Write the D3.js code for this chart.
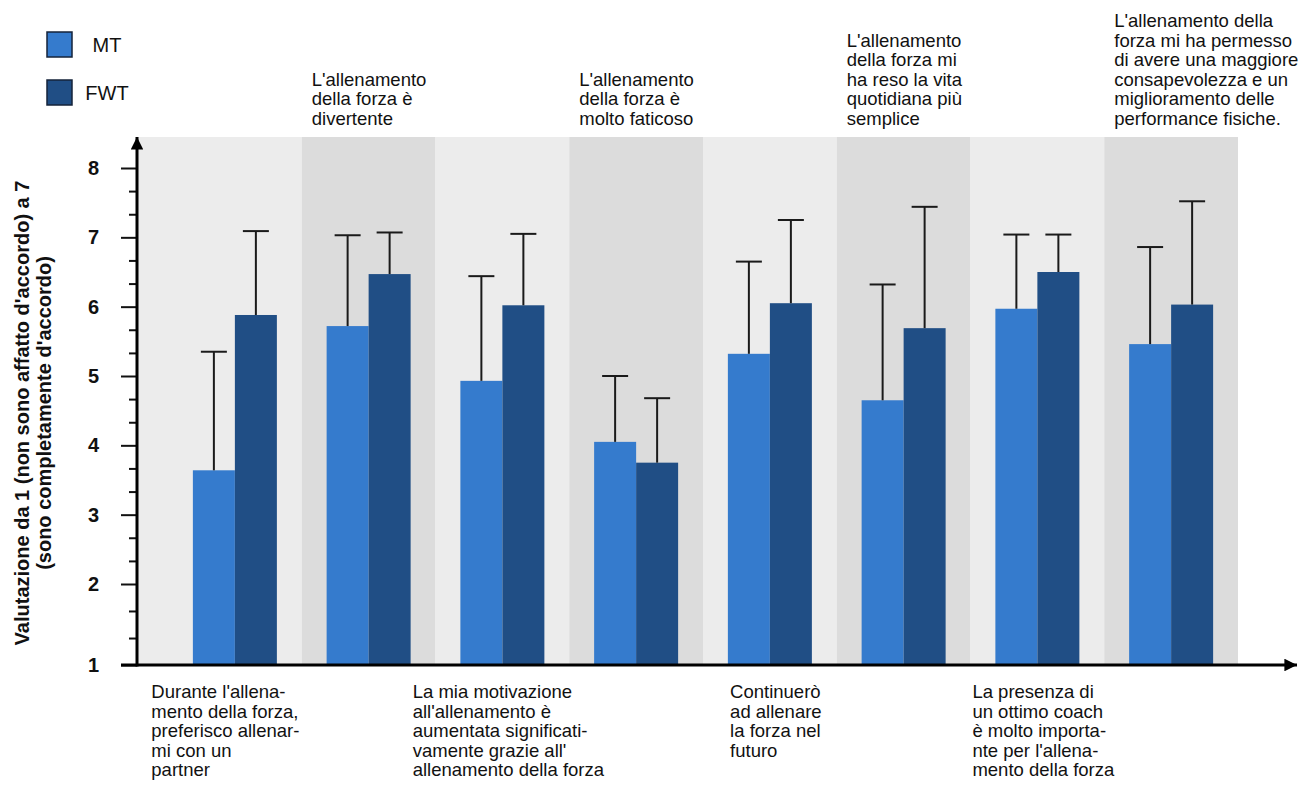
<!DOCTYPE html>
<html>
<head>
<meta charset="utf-8">
<script src="https://cdn.jsdelivr.net/npm/d3@7.9.0/dist/d3.min.js"></script>
<style>
  body { margin: 0; background: #fff; }
  text { font-family: "Liberation Sans", Arial, Helvetica, sans-serif; fill: #111; }
</style>
</head>
<body>
<div id="chart"></div>
<script>
// data
const series = ['MT', 'FWT'];
const statements = [
  ["Durante l'allena-", "mento della forza,", "preferisco allenar-", "mi con un", "partner"],
  ["L'allenamento", "della forza è", "divertente"],
  ["La mia motivazione", "all'allenamento è", "aumentata significati-", "vamente grazie all'", "allenamento della forza"],
  ["L'allenamento", "della forza è", "molto faticoso"],
  ["Continuerò", "ad allenare", "la forza nel", "futuro"],
  ["L'allenamento", "della forza mi", "ha reso la vita", "quotidiana più", "semplice"],
  ["La presenza di", "un ottimo coach", "è molto importa-", "nte per l'allena-", "mento della forza"],
  ["L'allenamento della", "forza mi ha permesso", "di avere una maggiore", "consapevolezza e un", "miglioramento delle", "performance fisiche."]
];
const mtMean  = [3.64, 5.72, 4.93, 4.05, 5.32, 4.65, 5.97, 5.46];
const mtSd    = [1.71, 1.31, 1.51, 0.95, 1.33, 1.67, 1.07, 1.40];
const fwtMean = [5.88, 6.47, 6.02, 3.75, 6.05, 5.69, 6.50, 6.03];
const fwtSd   = [1.21, 0.60, 1.03, 0.93, 1.20, 1.75, 0.54, 1.49];
const yTicks = [1, 2, 3, 4, 5, 6, 7, 8];
const yTitle = ["Valutazione da 1 (non sono affatto d'accordo) a 7", "(sono completamente d'accordo)"];

const colors = { MT: '#357bcd', FWT: '#204e85' };
const bandFill = ['#ececec', '#dcdcdc'];

const width = 1304, height = 800;
const axisX = 137, axisY = 665, plotTop = 137;

const svg = d3.select('#chart')
  .append('svg')
  .attr('width', width)
  .attr('height', height);

const defs = svg.append('defs');
defs.append('marker')
  .attr('id', 'arrow')
  .attr('viewBox', '0 0 10 10')
  .attr('refX', 10).attr('refY', 5)
  .attr('markerWidth', 4.2).attr('markerHeight', 4.2)
  .attr('markerUnits', 'strokeWidth')
  .attr('orient', 'auto')
  .append('path')
  .attr('d', 'M0,0 L10,5 L0,10 Z')
  .attr('fill', '#000');

const rows = statements.map((s, i) => ({
  i, lines: s,
  MT: mtMean[i], MTsd: mtSd[i],
  FWT: fwtMean[i], FWTsd: fwtSd[i]
}));

// the hand drawn axis has a longer step between 1 and 2
const y = d3.scaleLinear().domain([1, 2, 8]).range([axisY, 584, 168]);
const x = d3.scaleBand().domain(d3.range(statements.length)).range([168, 1238]);
const xSub = d3.scaleBand().domain(series).range([0, 84]);
const step = x.step();

// first background band reaches back to the y axis
const bandLeft = i => i === 0 ? axisX : x(i);
const bandRight = i => x(i) + step;

// background bands
svg.append('g')
  .selectAll('rect')
  .data(rows)
  .join('rect')
  .attr('x', d => bandLeft(d.i))
  .attr('y', plotTop)
  .attr('width', d => bandRight(d.i) - bandLeft(d.i))
  .attr('height', axisY - plotTop)
  .attr('fill', d => bandFill[d.i % 2]);

// bars
const groups = svg.append('g')
  .selectAll('g')
  .data(rows)
  .join('g')
  .attr('transform', d => `translate(${x(d.i) + (step - 84) / 2},0)`);

groups.selectAll('rect')
  .data(d => series.map(k => ({ k, v: d[k], sd: d[k + 'sd'] })))
  .join('rect')
  .attr('x', d => xSub(d.k))
  .attr('y', d => y(d.v))
  .attr('width', xSub.bandwidth())
  .attr('height', d => axisY - y(d.v))
  .attr('fill', d => colors[d.k]);

// upper error bars
const err = groups.selectAll('g.err')
  .data(d => series.map(k => ({ k, v: d[k], sd: d[k + 'sd'] })))
  .join('g')
  .attr('class', 'err')
  .attr('stroke', '#1a1a1a')
  .attr('stroke-width', 2);

err.append('line')
  .attr('x1', d => xSub(d.k) + xSub.bandwidth() / 2)
  .attr('x2', d => xSub(d.k) + xSub.bandwidth() / 2)
  .attr('y1', d => y(d.v))
  .attr('y2', d => y(d.v + d.sd));

err.append('line')
  .attr('x1', d => xSub(d.k) + xSub.bandwidth() / 2 - 13)
  .attr('x2', d => xSub(d.k) + xSub.bandwidth() / 2 + 13)
  .attr('y1', d => y(d.v + d.sd))
  .attr('y2', d => y(d.v + d.sd));

// y axis: minor ticks every third, major ticks on integers
const minor = d3.range(1, 8, 1 / 3).map(v => Math.round(v * 1000) / 1000).filter(v => !yTicks.includes(v));
svg.append('g')
  .attr('transform', `translate(${axisX},0)`)
  .call(d3.axisLeft(y).tickValues(minor).tickSize(8).tickFormat(''))
  .call(g => g.select('.domain').remove())
  .call(g => g.selectAll('line').attr('stroke', '#111').attr('stroke-width', 2));

svg.append('g')
  .attr('transform', `translate(${axisX},0)`)
  .call(d3.axisLeft(y).tickValues(yTicks).tickSize(16).tickPadding(22).tickFormat(d3.format('d')))
  .call(g => g.select('.domain').remove())
  .call(g => g.selectAll('line').attr('stroke', '#111').attr('stroke-width', 2))
  .call(g => g.selectAll('text')
    .attr('font-family', '"Liberation Sans", Arial, sans-serif')
    .attr('font-size', 20)
    .attr('font-weight', 'bold')
    .attr('fill', '#111'));

// axis lines with arrows
svg.append('line')
  .attr('x1', axisX).attr('x2', axisX)
  .attr('y1', axisY + 1.5).attr('y2', plotTop)
  .attr('stroke', '#000').attr('stroke-width', 3)
  .attr('marker-end', 'url(#arrow)');

svg.append('line')
  .attr('x1', 121).attr('x2', 1297)
  .attr('y1', axisY).attr('y2', axisY)
  .attr('stroke', '#000').attr('stroke-width', 3)
  .attr('marker-end', 'url(#arrow)');

// y title
svg.append('text')
  .attr('transform', 'translate(0,413) rotate(-90)')
  .attr('text-anchor', 'middle')
  .attr('font-size', 20)
  .attr('font-weight', 'bold')
  .selectAll('tspan')
  .data(yTitle)
  .join('tspan')
  .attr('x', 0)
  .attr('y', (d, i) => 29 + i * 22)
  .text(d => d);

// statement labels: odd ones on top, even ones below the axis
const lineH = 19.6;
rows.forEach(d => {
  const top = d.i % 2 === 1;
  const t = svg.append('text')
    .attr('font-size', 18.5);
  const n = d.lines.length;
  t.selectAll('tspan')
    .data(d.lines)
    .join('tspan')
    .attr('y', (l, j) => top ? 125 - (n - 1 - j) * lineH : 698 + j * lineH)
    .text(l => l);
  if (top) {
    t.selectAll('tspan').attr('x', bandLeft(d.i) + 10);
  } else {
    const w = d3.max(t.selectAll('tspan').nodes(), nd => nd.getComputedTextLength());
    const cx = (bandLeft(d.i) + bandRight(d.i)) / 2;
    t.selectAll('tspan').attr('x', Math.max(axisX, cx - w / 2 + 6));
  }
});

// legend
const legend = svg.append('g');
series.forEach((s, i) => {
  legend.append('rect')
    .attr('x', 47).attr('y', 32 + i * 48)
    .attr('width', 25).attr('height', 25)
    .attr('fill', colors[s])
    .attr('stroke', '#14233a').attr('stroke-width', 1.5);
  legend.append('text')
    .attr('x', 107).attr('y', 45 + i * 48)
    .attr('dy', '0.35em')
    .attr('text-anchor', 'middle')
    .attr('font-size', 20)
    .text(s);
});
</script>
</body>
</html>
